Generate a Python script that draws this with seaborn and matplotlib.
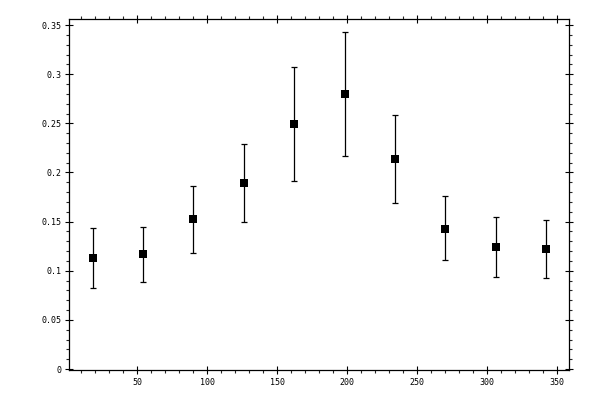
import matplotlib
matplotlib.use("Agg")
import matplotlib.pyplot as plt
import matplotlib.ticker as mticker
import pandas as pd
import seaborn as sns

# data
x = [18, 54, 90, 126, 162, 198, 234, 270, 306, 342]
y = [0.113, 0.117, 0.153, 0.189, 0.249, 0.280, 0.214, 0.143, 0.124, 0.122]
y_hi = [0.1435, 0.145, 0.186, 0.229, 0.307, 0.343, 0.258, 0.176, 0.155, 0.152]
y_lo = [0.0825, 0.0885, 0.118, 0.150, 0.191, 0.217, 0.169, 0.111, 0.094, 0.093]

df = pd.DataFrame({"x": x, "y": y, "hi": y_hi, "lo": y_lo})

sns.set_style("ticks")
plt.rcParams["font.family"] = ["DejaVu Sans Mono", "DejaVu Sans"]

fig = plt.figure(figsize=(6, 4), dpi=100)
ax = fig.add_axes([0.1155, 0.075, 0.8335, 0.877])

# error bars
ax.errorbar(df["x"], df["y"],
            yerr=[df["y"] - df["lo"], df["hi"] - df["y"]],
            fmt="none", ecolor="black", elinewidth=0.9, capsize=2.2, capthick=0.9)
# markers
sns.scatterplot(data=df, x="x", y="y", marker="s", color="black", s=28,
                edgecolor="black", linewidth=0, ax=ax, zorder=3)

ax.set_xlim(1.4, 358.6)
ax.set_ylim(-0.001, 0.356)
ax.set_xlabel("")
ax.set_ylabel("")

ax.xaxis.set_major_locator(mticker.MultipleLocator(50))
ax.xaxis.set_minor_locator(mticker.MultipleLocator(10))
ax.yaxis.set_major_locator(mticker.MultipleLocator(0.05))
ax.yaxis.set_minor_locator(mticker.MultipleLocator(0.01))
ax.xaxis.set_major_formatter(mticker.FuncFormatter(lambda v, p: "%g" % v if v > 0 else ""))
ax.yaxis.set_major_formatter(mticker.FuncFormatter(lambda v, p: "%g" % round(v, 3)))

for sp in ax.spines.values():
    sp.set_visible(True)
    sp.set_linewidth(0.9)
    sp.set_color("black")

ax.tick_params(which="major", direction="inout", length=6, width=0.8,
               top=True, right=True, labelsize=6, pad=2.5, colors="black")
ax.tick_params(which="minor", direction="out", length=2.5, width=0.8,
               top=True, right=True)

plt.savefig("out.png", dpi=100)
